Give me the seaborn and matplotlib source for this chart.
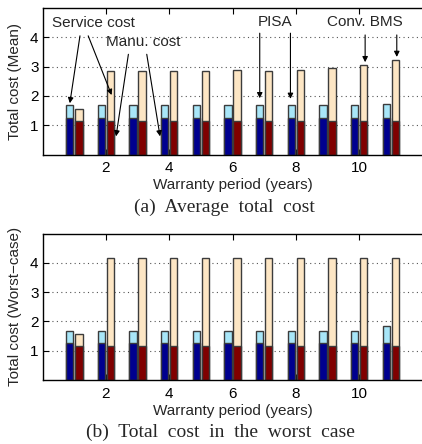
import numpy as np
import pandas as pd
import matplotlib
matplotlib.use("Agg")
import matplotlib.pyplot as plt
import seaborn as sns

# ---- data -------------------------------------------------------------
years = list(range(1, 12))
systems = ["PISA", "Conv. BMS"]

pisa_manu = [1.26] * 11
conv_manu = [1.15] * 11

pisa_total_mean = [1.68, 1.68, 1.68, 1.68, 1.68, 1.68, 1.68, 1.68, 1.68, 1.68, 1.71]
conv_total_mean = [1.56, 2.86, 2.86, 2.86, 2.86, 2.87, 2.86, 2.89, 2.95, 3.06, 3.24]

pisa_total_worst = [1.67, 1.67, 1.67, 1.67, 1.67, 1.67, 1.67, 1.67, 1.67, 1.67, 1.83]
conv_total_worst = [1.56, 4.15, 4.15, 4.15, 4.15, 4.15, 4.15, 4.15, 4.15, 4.15, 4.15]

x_ticks = [2, 4, 6, 8, 10]
y_ticks = [1, 2, 3, 4]

# ---- colours ----------------------------------------------------------
service_colors = ["#A8E6F8", "#FDE6C4"]   # PISA, Conv. BMS (service part)
manu_colors = ["#00008F", "#800000"]      # PISA, Conv. BMS (manufacturing part)
edge = "#3C3C3C"

sns.set_theme(style="white")
plt.rcParams["font.family"] = ["Liberation Sans", "DejaVu Sans"]
plt.rcParams["font.size"] = 11


def long_frame(pisa_vals, conv_vals, col):
    return pd.DataFrame({
        "year": years + years,
        "system": ["PISA"] * len(years) + ["Conv. BMS"] * len(years),
        col: list(pisa_vals) + list(conv_vals),
    })


def draw_panel(ax, pisa_total, conv_total, ylabel):
    tot = long_frame(pisa_total, conv_total, "cost")
    man = long_frame(pisa_manu, conv_manu, "cost")
    common = dict(x="year", y="cost", hue="system", hue_order=systems,
                  native_scale=True, dodge=True, width=0.58, gap=0.2,
                  errorbar=None, legend=False, edgecolor=edge, linewidth=1.0,
                  saturation=1, zorder=3, ax=ax)
    sns.barplot(data=tot, palette=service_colors, **common)
    sns.barplot(data=man, palette=manu_colors, **common)

    ax.set_xlim(0, 12)
    ax.set_ylim(0, 5)
    ax.set_xticks(x_ticks)
    ax.set_xticklabels([str(t) for t in x_ticks])
    ax.set_yticks(y_ticks)
    ax.set_yticklabels([str(t) for t in y_ticks])
    ax.set_xlabel("Warranty period (years)", fontsize=11, labelpad=2)
    ax.set_ylabel(ylabel, fontsize=11, labelpad=6)

    ax.set_axisbelow(True)
    ax.yaxis.grid(True, linestyle=(0, (1, 3)), color="#555555", linewidth=0.8,
                  zorder=0)
    ax.xaxis.grid(False)
    for side in ["left", "bottom", "top"]:
        ax.spines[side].set_visible(True)
        ax.spines[side].set_color("black")
        ax.spines[side].set_linewidth(1.0)
        ax.spines[side].set_zorder(4)
    ax.spines["right"].set_visible(False)
    ax.tick_params(axis="both", direction="in", length=4, width=0.8,
                   top=True, bottom=True, left=True, right=False,
                   labelsize=11, pad=3, colors="black")
    ax.tick_params(axis="x", pad=5)


fig = plt.figure(figsize=(4.22, 4.44), dpi=100)
ax1 = fig.add_axes([0.101, 0.652, 0.900, 0.330])
ax2 = fig.add_axes([0.101, 0.144, 0.900, 0.330])

draw_panel(ax1, pisa_total_mean, conv_total_mean, "Total cost (Mean)")
draw_panel(ax2, pisa_total_worst, conv_total_worst, "Total cost (Worst\u2212case)")

# ---- annotations on the top panel ------------------------------------
arrow = dict(arrowstyle="-|>", color="black", lw=0.8, mutation_scale=8,
             shrinkA=0, shrinkB=0)

ax1.text(0.29, 4.50, "Service cost", ha="left", va="center", fontsize=11,
         zorder=5)
ax1.annotate("", xy=(0.86, 1.75), xytext=(1.18, 4.05), arrowprops=arrow,
             zorder=5)
ax1.annotate("", xy=(2.18, 2.03), xytext=(1.44, 4.05), arrowprops=arrow,
             zorder=5)

ax1.text(2.0, 3.85, "Manu. cost", ha="left", va="center", fontsize=11,
         zorder=5)
ax1.annotate("", xy=(2.32, 0.62), xytext=(2.71, 3.42), arrowprops=arrow,
             zorder=5)
ax1.annotate("", xy=(3.71, 0.62), xytext=(3.29, 3.42), arrowprops=arrow,
             zorder=5)

ax1.text(7.35, 4.52, "PISA", ha="center", va="center", fontsize=11, zorder=5)
ax1.annotate("", xy=(6.86, 1.92), xytext=(6.86, 4.14), arrowprops=arrow,
             zorder=5)
ax1.annotate("", xy=(7.83, 1.90), xytext=(7.83, 4.14), arrowprops=arrow,
             zorder=5)

ax1.text(10.18, 4.52, "Conv. BMS", ha="center", va="center", fontsize=11,
         zorder=5)
ax1.annotate("", xy=(10.19, 3.15), xytext=(10.19, 4.08), arrowprops=arrow,
             zorder=5)
ax1.annotate("", xy=(11.19, 3.33), xytext=(11.19, 4.08), arrowprops=arrow,
             zorder=5)

# ---- sub-captions -------------------------------------------------------
serif = ["Liberation Serif", "DejaVu Serif"]
fig.text(0.532, 0.5232, "(a)  Average  total  cost", ha="center",
         va="baseline", fontsize=14, family=serif)
fig.text(0.523, 0.0164, "(b)  Total  cost  in  the  worst  case", ha="center",
         va="baseline", fontsize=14, family=serif)

fig.savefig("out.png", dpi=100)
